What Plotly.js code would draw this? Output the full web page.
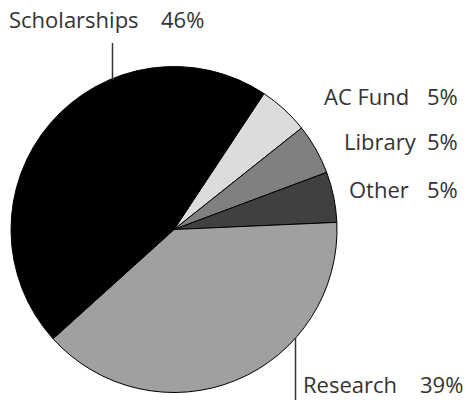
<!DOCTYPE html>
<html><head><meta charset="utf-8">
<script src="https://cdn.plot.ly/plotly-3.0.1.min.js"></script>
<style>html,body{margin:0;padding:0;background:#fff}#c{width:470px;height:400px}</style>
</head><body><div id="c"></div>
<script>
const labels = ["AC Fund", "Library", "Other", "Research", "Scholarships"];
const values = [5, 5, 5, 39, 46];
const colors = ["#dcdcdc", "#808080", "#404040", "#a0a0a0", "#000000"];

const W = 470, H = 400;
const px = x => x / W, py = y => 1 - y / H;
const font = {family: "Open Sans, sans-serif", size: 22, color: "#333333"};

// label placements (pixel positions: right edge, vertical middle)
const namePos = {
  "AC Fund": [411, 96], "Library": [419, 141], "Other": [411, 189],
  "Research": [399, 384], "Scholarships": [141, 19]
};
const pctPos = {
  "AC Fund": [460, 96], "Library": [460, 141], "Other": [460, 189],
  "Research": [465, 384], "Scholarships": [206, 19]
};
const annotations = [];
labels.forEach((l, i) => {
  annotations.push({xref: "paper", yref: "paper", x: px(namePos[l][0]), y: py(namePos[l][1]),
    xanchor: "right", yanchor: "middle", text: l, showarrow: false, font});
  annotations.push({xref: "paper", yref: "paper", x: px(pctPos[l][0]), y: py(pctPos[l][1]),
    xanchor: "right", yanchor: "middle", text: values[i] + "%", showarrow: false, font});
});

const shapes = [
  {type: "line", xref: "paper", yref: "paper", x0: px(112.5), x1: px(112.5), y0: py(43), y1: py(80),
   line: {color: "#333333", width: 1.5}},
  {type: "line", xref: "paper", yref: "paper", x0: px(295.5), x1: px(295.5), y0: py(338), y1: py(400),
   line: {color: "#333333", width: 1.5}}
];

Plotly.newPlot("c", [{
  type: "pie", labels, values, sort: false, direction: "clockwise", rotation: 33.5,
  marker: {colors, line: {color: "#000000", width: 1}},
  textinfo: "none", hoverinfo: "none", showlegend: false,
  domain: {x: [px(11), px(337)], y: [py(392.5), py(66.5)]}
}], {
  width: W, height: H, margin: {l: 0, r: 0, t: 0, b: 0},
  paper_bgcolor: "#ffffff", annotations, shapes, showlegend: false
}, {staticPlot: true});
</script></body></html>
